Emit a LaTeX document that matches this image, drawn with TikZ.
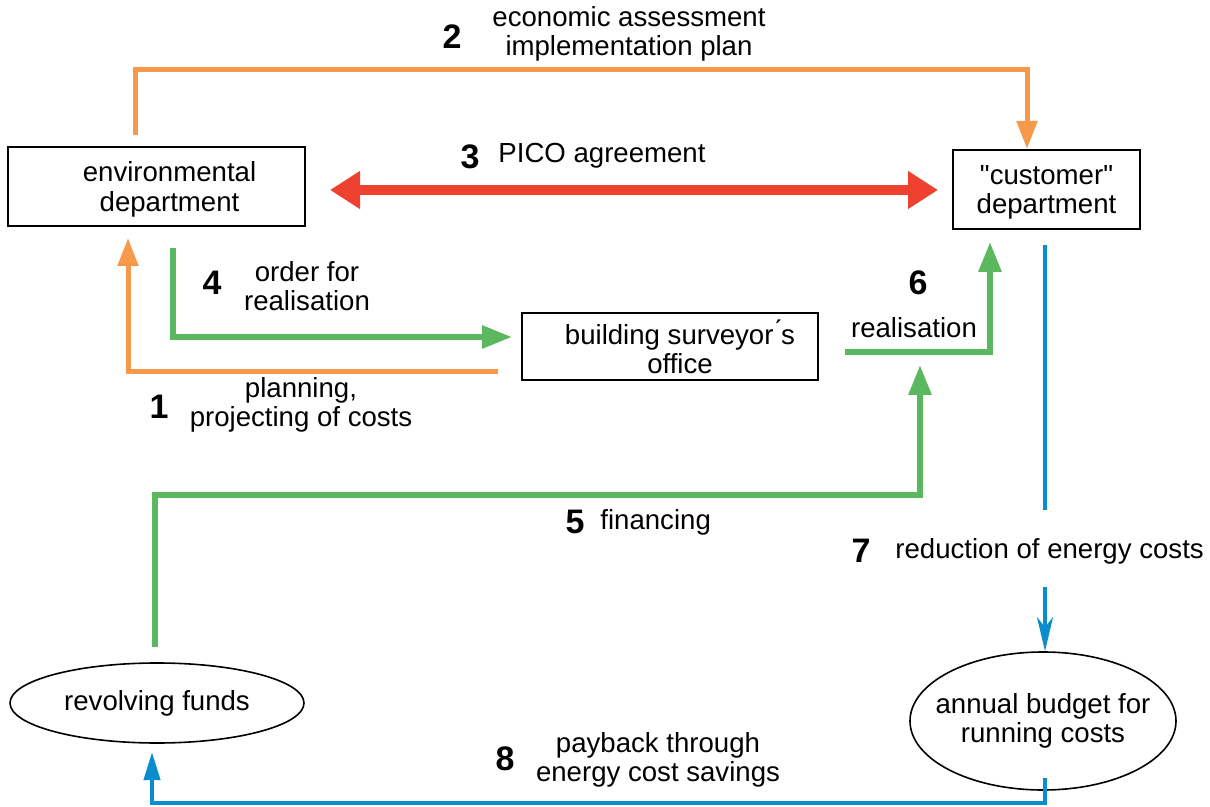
\documentclass[tikz,border=0pt]{standalone}
\usepackage{fontspec}
\setmainfont{Liberation Sans}
\usetikzlibrary{arrows.meta, positioning, shapes.geometric}
\definecolor{korange}{HTML}{F7994A}
\definecolor{kred}{HTML}{EE412F}
\definecolor{kgreen}{HTML}{5CB85F}
\definecolor{kblue}{HTML}{0A8DCF}
\tikzset{
  unitbox/.style={draw=black, line width=1pt, inner sep=0pt, align=center},
  fundell/.style={ellipse, draw=black, line width=0.8pt, inner sep=0pt, align=center},
  lbl/.style={font=\fontsize{13.8}{14.6}\selectfont, align=center, inner sep=0pt},
  num/.style={font=\fontsize{17}{17}\selectfont\bfseries, inner sep=0pt},
  orangeflow/.style={korange, line width=2.5pt, -{Triangle[length=14pt, width=10pt]}},
  greenflow/.style={kgreen, line width=3pt, -{Triangle[length=15pt, width=11pt]}},
  blueflow/.style={kblue, line width=2pt},
}
\begin{document}
\begin{tikzpicture}[x=0.5pt, y=-0.5pt]
\useasboundingbox (0,0) rectangle (1210,807);
% units
\node[unitbox, minimum width=148.5pt, minimum height=39.5pt, lbl, text depth=-1.5pt] (env) at (156.5,186.5) {\hspace*{13pt}environmental\\\hspace*{13pt}department};
\node[unitbox, minimum width=93.5pt, minimum height=39.5pt, lbl, text depth=-1.5pt] (cust) at (1046.5,189.5) {\textquotedbl customer\textquotedbl\\department};
\node[unitbox, minimum width=148pt, minimum height=33.5pt, lbl, text depth=-1pt] (bso) at (670,346.5) {\hspace*{10pt}building surveyor\'{}s\\\hspace*{10pt}office};
\node[fundell, minimum width=147pt, minimum height=40pt, lbl] (rev) at (157,703) {revolving funds};
\node[fundell, minimum width=133pt, minimum height=69pt, lbl, inner xsep=-15pt] (budget) at (1043,721) {annual budget for\\running costs};
% bends and free ends
\coordinate (o2a) at (135,135);
\coordinate (o2b) at (1027,70);
\coordinate (o1a) at (498,372);
\coordinate (o1b) at (128,238);
\coordinate (g4a) at (173,248);
\coordinate (g4b) at (512,337);
\coordinate (g6a) at (845,352);
\coordinate (g6b) at (990,242);
\coordinate (g5a) at (155,647);
\coordinate (g5c) at (920,495);
\coordinate (g5b) at (920,365);
\coordinate (b7a) at (1045,245);
\coordinate (b7b) at (1045,510);
\coordinate (b7c) at (1045,587);
\coordinate (b8a) at (1045,778);
\coordinate (b8c) at (152,803);
\coordinate (b8b) at (152,752);
% flows
\draw[orangeflow] (o2a) |- (o2b) -- (o2b |- cust.north);
\draw[kred, line width=5pt, {Triangle[length=15pt, width=18pt]}-{Triangle[length=15pt, width=18pt]}]
  ([xshift=12pt]env.east |- 0,190) -- ([xshift=-7pt]cust.west |- 0,190);
\draw[orangeflow] (o1a) -| (o1b);
\draw[greenflow] (g4a) |- (g4b);
\draw[greenflow] (g6a) -| (g6b);
\draw[greenflow] (g5a) |- (g5c) -- (g5b);
\draw[blueflow] (b7a) -- (b7b);
\draw[blueflow, -{Stealth[length=17pt, width=8pt, inset=5pt]}] (b7c) -- (b7c |- budget.north);
\draw[blueflow, -{Triangle[length=14pt, width=8pt]}] (b8a) |- (b8c) -- (b8b);
% labels
\node[num] (n2) at (452,37) {2};
\node[lbl] (t2) at (629,34) {economic assessment\\implementation plan};
\node[num] (n3) at (470,157) {3};
\node[lbl] (t3) at (602,156) {PICO agreement};
\node[num] (n4) at (212,283) {4};
\node[lbl] (t4) at (307,286) {order for\\realisation};
\node[num] (n1) at (159,407) {1};
\node[lbl] (t1) at (301,405) {planning,\\projecting of costs};
\node[num] (n6) at (918,283) {6};
\node[lbl] (t6) at (914,328) {realisation};
\node[num] (n5) at (575,522) {5};
\node[lbl, anchor=west] (t5) at (600,522) {financing};
\node[num] (n7) at (861,551) {7};
\node[lbl, anchor=west] (t7) at (895,551) {reduction of energy costs};
\node[num] (n8) at (505,759) {8};
\node[lbl] (t8) at (658,760) {payback through\\energy cost savings};
\end{tikzpicture}
\end{document}
